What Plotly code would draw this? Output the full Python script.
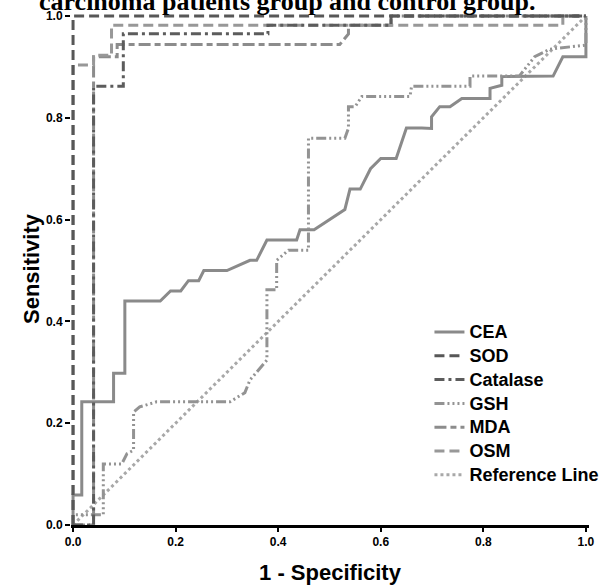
import plotly.graph_objects as go

# ---- data ----
series_names = ["CEA", "SOD", "Catalase", "GSH", "MDA", "OSM", "Reference Line"]

cea_fpr = [0, 0, 0.017, 0.017, 0.079, 0.079, 0.101, 0.101, 0.17, 0.19, 0.21, 0.225, 0.245, 0.255, 0.30, 0.345, 0.358, 0.378, 0.436, 0.4425, 0.47, 0.50, 0.53, 0.54, 0.56, 0.58, 0.60, 0.63, 0.65, 0.68, 0.699, 0.699, 0.715, 0.735, 0.758, 0.813, 0.813, 0.836, 0.836, 0.936, 0.955, 1.0, 1.0]
cea_tpr = [0, 0.059, 0.059, 0.242, 0.242, 0.298, 0.298, 0.44, 0.44, 0.46, 0.46, 0.48, 0.48, 0.50, 0.50, 0.52, 0.52, 0.56, 0.56, 0.58, 0.58, 0.60, 0.62, 0.66, 0.66, 0.70, 0.72, 0.72, 0.78, 0.78, 0.779, 0.802, 0.822, 0.822, 0.838, 0.838, 0.858, 0.864, 0.881, 0.882, 0.92, 0.92, 1.0]

sod_fpr = [0, 0, 1.0]
sod_tpr = [0, 1.0, 1.0]

cat_fpr = [0, 0.04, 0.04, 0.098, 0.098, 0.38, 0.38, 0.62, 0.62, 1.0]
cat_tpr = [0, 0, 0.862, 0.862, 0.965, 0.965, 0.982, 0.982, 1.0, 1.0]

gsh_fpr = [0, 0, 0.059, 0.059, 0.095, 0.105, 0.118, 0.118, 0.13, 0.163, 0.306, 0.335, 0.345, 0.378, 0.378, 0.397, 0.397, 0.42, 0.459, 0.459, 0.53, 0.537, 0.537, 0.55, 0.563, 0.657, 0.66, 0.774, 0.774, 0.87, 0.90, 0.93, 1.0, 1.0]
gsh_tpr = [0, 0.02, 0.02, 0.12, 0.12, 0.14, 0.147, 0.222, 0.232, 0.242, 0.242, 0.26, 0.285, 0.324, 0.462, 0.462, 0.52, 0.54, 0.54, 0.76, 0.76, 0.78, 0.822, 0.822, 0.842, 0.842, 0.862, 0.862, 0.882, 0.882, 0.92, 0.935, 0.943, 1.0]

mda_fpr = [0, 0.04, 0.04, 0.086, 0.086, 0.52, 0.537, 0.537, 0.62, 0.62, 1.0]
mda_tpr = [0, 0, 0.92, 0.92, 0.944, 0.944, 0.965, 0.982, 0.982, 1.0, 1.0]

osm_fpr = [0, 0, 0.04, 0.04, 0.075, 0.075, 0.955, 0.955, 1.0]
osm_tpr = [0, 0.904, 0.904, 0.923, 0.923, 0.982, 0.982, 1.0, 1.0]

ref_fpr = [0, 1]
ref_tpr = [0, 1]

x_tick_vals = [0.0, 0.2, 0.4, 0.6, 0.8, 1.0]
x_tick_text = ["0.0", "0.2", "0.4", "0.6", "0.8", "1.0"]
y_tick_vals = [0.0, 0.2, 0.4, 0.6, 0.8, 1.0]
y_tick_text = ["0.0", "0.2", "0.4", "0.6", "0.8", "1.0"]

# ---- styles ----
styles = [
    dict(color="#8a8a8a", dash="solid"),
    dict(color="#575757", dash="10px,5px"),
    dict(color="#5c5c5c", dash="10px,4px,3px,4px"),
    dict(color="#939393", dash="10px,3px,2px,3px,2px,3px,2px,3px"),
    dict(color="#8c8c8c", dash="12px,4px,6px,4px"),
    dict(color="#989898", dash="10px,5px"),
    dict(color="#a8a8a8", dash="3px,3px"),
]
data = [
    (cea_fpr, cea_tpr), (sod_fpr, sod_tpr), (cat_fpr, cat_tpr), (gsh_fpr, gsh_tpr),
    (mda_fpr, mda_tpr), (osm_fpr, osm_tpr), (ref_fpr, ref_tpr),
]
# drawing order (legend order kept through legendrank): darker curves on top
draw_order = [6, 0, 3, 4, 5, 2, 1]

fig = go.Figure()
for i in draw_order:
    name, (fx, fy), st = series_names[i], data[i], styles[i]
    fig.add_trace(go.Scatter(
        x=fx, y=fy, mode="lines",
        name='<span style="font-size:18px">' + name + '</span>',
        line=dict(color=st["color"], dash=st["dash"], width=3),
        legendgroup="g%d" % i, legendrank=1000 + i,
    ))

sans = "Liberation Sans, Arial, sans-serif"
fig.update_layout(
    width=602, height=585,
    margin=dict(l=71, r=13, t=13, b=60, autoexpand=False),
    paper_bgcolor="white", plot_bgcolor="white",
    font=dict(family=sans, color="black"),
    showlegend=True,
    legend=dict(
        x=0.692, y=0.410, xanchor="left", yanchor="top",
        font=dict(family=sans, size=16, color="black", weight="bold"),
        bgcolor="rgba(0,0,0,0)", tracegroupgap=0, itemwidth=30,
        traceorder="normal",
    ),
    xaxis=dict(
        range=[-0.004, 1.006], tickvals=x_tick_vals, ticktext=x_tick_text,
        showgrid=False, zeroline=False, showline=True, linecolor="black", linewidth=3,
        ticks="outside", ticklen=4, tickwidth=1.5, tickcolor="black",
        tickfont=dict(family=sans, size=12, color="black", weight="bold"),
        title=dict(text="1 - Specificity", font=dict(family=sans, size=22, color="black", weight="bold"), standoff=25),
        layer="above traces", automargin=False,
    ),
    yaxis=dict(
        range=[0, 1.006], tickvals=y_tick_vals, ticktext=y_tick_text,
        showgrid=False, zeroline=False, showline=False,
        ticks="outside", ticklen=5, tickwidth=1.5, tickcolor="black",
        tickfont=dict(family=sans, size=12, color="black", weight="bold"),
        title=dict(text="Sensitivity", font=dict(family=sans, size=22, color="black", weight="bold"), standoff=0),
        automargin=False,
    ),
    annotations=[dict(
        text="carcinoma patients group and control group.",
        xref="paper", yref="paper", x=(37 - 71) / 518, y=1.0215,
        xanchor="left", yanchor="middle", showarrow=False,
        font=dict(family="Liberation Serif, Times New Roman, serif", size=26, color="black", weight="bold"),
    )],
)

fig.write_html("out.html", config={"displayModeBar": False},
               post_script="document.body.style.margin='0px';")
